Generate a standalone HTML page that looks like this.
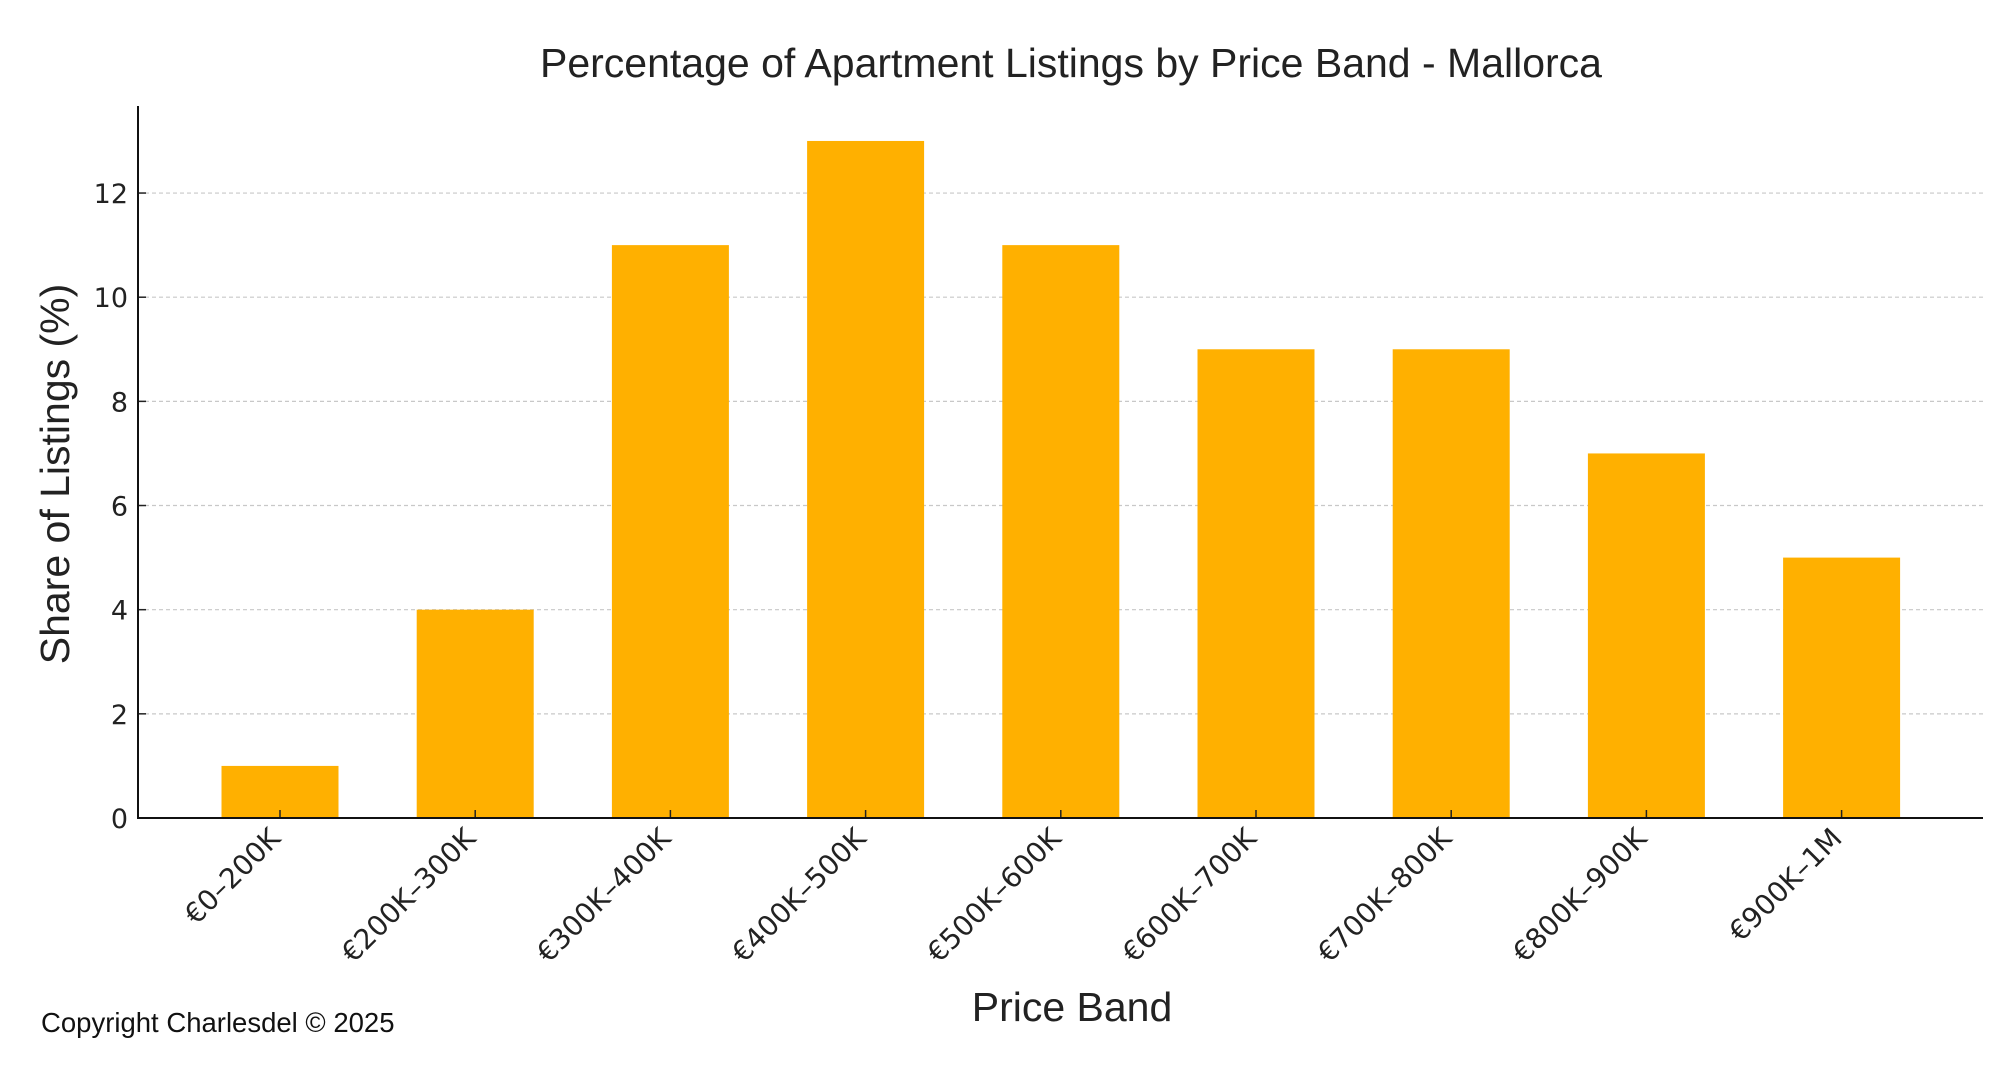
<!DOCTYPE html>
<html><head><meta charset="utf-8"><style>
html,body{margin:0;padding:0;background:#fff;}
svg{display:block;font-family:"DejaVu Sans","Liberation Sans",sans-serif;}
</style></head><body>
<svg id="chart" width="2000" height="1068" viewBox="0 0 2000 1068" xmlns="http://www.w3.org/2000/svg">
<text x="1071" y="77" font-size="41" text-anchor="middle" fill="#222" font-family="Liberation Sans, sans-serif">Percentage of Apartment Listings by Price Band - Mallorca</text>
<g id="grid"></g>
<g id="bars"></g>
<g id="axes"></g>
<text transform="translate(69,474) rotate(-90)" font-size="41" text-anchor="middle" fill="#222" font-family="Liberation Sans, sans-serif">Share of Listings (%)</text>
<text x="1072" y="1021" font-size="41" text-anchor="middle" fill="#222" font-family="Liberation Sans, sans-serif">Price Band</text>
<text x="41" y="1032" font-size="27.5" fill="#111" font-family="Liberation Sans, sans-serif">Copyright Charlesdel © 2025</text>
</svg>
<script>
const categories=["€0–200K","€200K–300K","€300K–400K","€400K–500K","€500K–600K","€600K–700K","€700K–800K","€800K–900K","€900K–1M"];
const values=[1,4,11,13,11,9,9,7,5];
const yTicks=[0,2,4,6,8,10,12];
const L=138,R=1983,T=106,B=818;
const x0=280,step=195.2,bw=117;
function xPos(i){return x0+i*step;}
function yPos(v){return B-v*52.08;}
const NS="http://www.w3.org/2000/svg";
function mk(t,a,p){const e=document.createElementNS(NS,t);for(const k in a)e.setAttribute(k,a[k]);p.appendChild(e);return e;}
const grid=document.getElementById('grid'),bars=document.getElementById('bars'),axes=document.getElementById('axes');
yTicks.forEach(v=>{
  if(v>0){const g=mk('line',{x1:L,x2:R,y1:yPos(v),y2:yPos(v),stroke:'#c8c8c8','stroke-width':1.2,'stroke-dasharray':'4,3'},grid);
  
  }
  const t=mk('line',{x1:L,x2:L+8,y1:yPos(v),y2:yPos(v),stroke:'#222','stroke-width':1.5},axes);
  
  
  const lb=mk('text',{x:L-10,y:yPos(v)+10,'font-size':27,'text-anchor':'end',fill:'#222'},axes);
  
  
  lb.textContent=v;
});
values.forEach((v,i)=>{
  const r=mk('rect',{x:xPos(i)-bw/2,y:yPos(v),width:bw,height:B-yPos(v),fill:'#FFB000'},bars);
  
  
  const t=mk('line',{x1:xPos(i),x2:xPos(i),y1:B,y2:B-8,stroke:'#222','stroke-width':1.5},axes);
  
  
  const lb=mk('text',{transform:`translate(${xPos(i)+2},${B+22}) rotate(-45)`,'font-size':28,'text-anchor':'end',fill:'#222'},axes);
  
  
  lb.textContent=categories[i];
});
const ya=mk('line',{x1:L,x2:L,y1:T,y2:B,stroke:'#111','stroke-width':2},axes);


const xa=mk('line',{x1:L-1,x2:R,y1:B,y2:B,stroke:'#111','stroke-width':2},axes);


</script>
</body></html>
